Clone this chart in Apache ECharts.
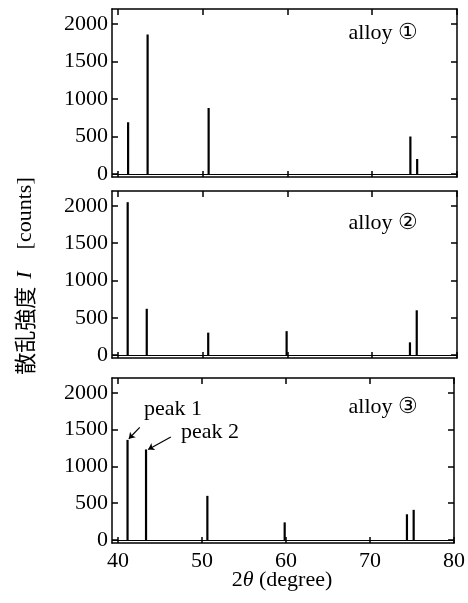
<!DOCTYPE html>
<html><head><meta charset="utf-8">
<script src="https://cdn.jsdelivr.net/npm/echarts@6/dist/echarts.min.js"></script>
<style>html,body{margin:0;padding:0;background:#fff}#c{width:468px;height:603px}</style>
</head><body><div id="c"></div>
<script>
// Data
var panelNames = ['alloy \u2460', 'alloy \u2461', 'alloy \u2462'];
var alloy1Pos = [41.2, 43.5, 50.7, 74.5, 75.3];
var alloy1Int = [690, 1860, 880, 500, 200];
var alloy2Pos = [41.15, 43.4, 50.65, 59.9, 74.45, 75.25];
var alloy2Int = [2050, 620, 300, 320, 170, 600];
var alloy3Pos = [41.15, 43.35, 50.65, 59.85, 74.4, 75.2];
var alloy3Int = [1360, 1230, 600, 240, 350, 410];
var xTicks = [40, 50, 60, 70, 80];
var yTicks = [0, 500, 1000, 1500, 2000];

var FONT = '"Liberation Serif", "DejaVu Serif", serif';
var posArr = [alloy1Pos, alloy2Pos, alloy3Pos];
var intArr = [alloy1Int, alloy2Int, alloy3Int];
var grids = [
  {left:112, right:11, top:9, height:168},
  {left:112, right:11, top:191, height:167},
  {left:112, right:11, top:378, height:165}
];
var xAxes = [], yAxes = [], series = [];
var lineStyle = {color:'#000', width:1.5};
function plain(v){ return String(Math.round(v)); }
grids.forEach(function(g, i){
  var showX = (i === 2);
  xAxes.push({type:'value', gridIndex:i, position:'bottom', min:39.3, max:80,
    axisLine:{show:true, onZero:false, lineStyle:lineStyle},
    axisTick:{show:true, inside:true, length:6, customValues:xTicks, lineStyle:lineStyle},
    axisLabel:{show:showX, customValues:xTicks, formatter:plain, fontFamily:FONT, fontSize:22, color:'#000', margin:7},
    splitLine:{show:false}});
  xAxes.push({type:'value', gridIndex:i, position:'top', min:39.3, max:80,
    axisLine:{show:true, onZero:false, lineStyle:lineStyle},
    axisTick:{show:true, inside:true, length:6, customValues:xTicks, lineStyle:lineStyle},
    axisLabel:{show:false}, splitLine:{show:false}});
  yAxes.push({type:'value', gridIndex:i, position:'left', min:-40, max:2200,
    axisLine:{show:true, onZero:false, lineStyle:lineStyle},
    axisTick:{show:true, inside:true, length:6, customValues:yTicks, lineStyle:lineStyle},
    axisLabel:{show:true, customValues:yTicks, formatter:plain, fontFamily:FONT, fontSize:22, color:'#000', margin:4},
    splitLine:{show:false}});
  yAxes.push({type:'value', gridIndex:i, position:'right', min:-40, max:2200,
    axisLine:{show:true, onZero:false, lineStyle:lineStyle},
    axisTick:{show:true, inside:true, length:6, customValues:yTicks, lineStyle:lineStyle},
    axisLabel:{show:false}, splitLine:{show:false}});
  var data = posArr[i].map(function(p, k){ return [p, intArr[i][k]]; });
  var ml = [{yAxis:0, lineStyle:{color:'#000', width:1.2, type:'solid'}}];
  if (i === 2) {
    ml.push([{coord:[42.6, 1530], symbol:'none'}, {coord:[41.3, 1375], symbol:'arrow', symbolSize:6}]);
    ml.push([{coord:[46.3, 1400], symbol:'none'}, {coord:[43.6, 1230], symbol:'arrow', symbolSize:6}]);
  }
  series.push({type:'bar', xAxisIndex:2*i, yAxisIndex:2*i, data:data, barWidth:2.2,
    itemStyle:{color:'#000'}, silent:true, animation:false,
    markLine:{silent:true, symbol:'none', label:{show:false}, animation:false,
      lineStyle:{color:'#000', width:1.2, type:'solid'}, data:ml}});
});

var graphics = [];
var alloyY = [33, 223, 407];
panelNames.forEach(function(n, i){
  graphics.push({type:'text', x:418, y:alloyY[i],
    style:{text:n, font:'22px ' + FONT, fill:'#000', textAlign:'right', textVerticalAlign:'middle'}});
});
graphics.push({type:'text', x:144, y:409, style:{text:'peak 1', font:'22px ' + FONT, fill:'#000', textAlign:'left', textVerticalAlign:'middle'}});
graphics.push({type:'text', x:181, y:432, style:{text:'peak 2', font:'22px ' + FONT, fill:'#000', textAlign:'left', textVerticalAlign:'middle'}});
graphics.push({type:'text', x:282, y:580, style:{
  text:'{n|2}{t|\u03b8}{n| (degree)}', textAlign:'center', textVerticalAlign:'middle',
  rich:{n:{fontFamily:FONT, fontSize:22, fill:'#000'}, t:{fontFamily:FONT, fontSize:22, fontStyle:'italic', fill:'#000'}}}});
graphics.push({type:'text', x:25, y:276, rotation:Math.PI/2, style:{
  text:'{j|\u6563\u4e71\u5f37\u5ea6}{s| }{i|I}{g| }{n|[counts]}', textAlign:'center', textVerticalAlign:'middle',
  rich:{j:{fontFamily:'"Noto Sans CJK JP"', fontSize:22, fill:'#000'},
        s:{width:8},
        g:{width:22},
        i:{fontFamily:FONT, fontSize:22, fontStyle:'italic', fill:'#000'},
        n:{fontFamily:FONT, fontSize:22, fill:'#000'}}}});

var chart = echarts.init(document.getElementById('c'), null, {renderer:'canvas'});
chart.setOption({animation:false, backgroundColor:'#fff', grid:grids, xAxis:xAxes, yAxis:yAxes, series:series, graphic:graphics});
</script></body></html>
